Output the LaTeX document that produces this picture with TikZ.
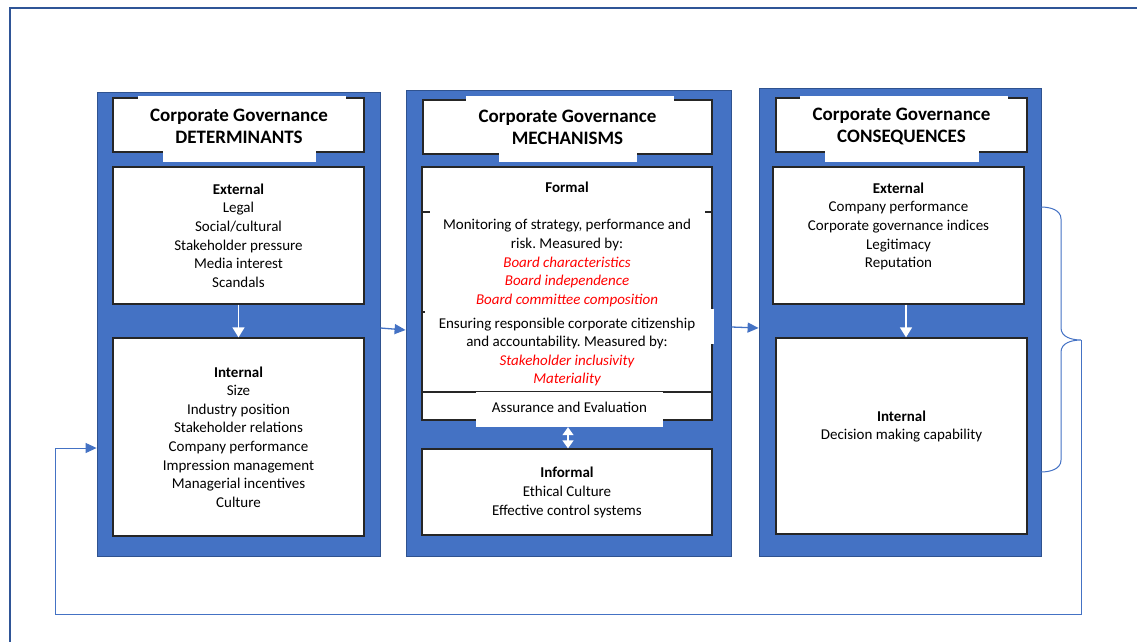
\documentclass[tikz,border=0pt]{standalone}
\usepackage{fontspec}
\setmainfont{Carlito}
\frenchspacing
\usetikzlibrary{arrows.meta}
\definecolor{panelblue}{HTML}{4472C4}
\definecolor{panelline}{HTML}{2F528F}
\definecolor{boxline}{HTML}{262626}
\definecolor{frameblue}{HTML}{2F5597}
\newcommand{\msr}[1]{\textcolor{red}{\itshape #1}}
\tikzset{
  panel/.style={fill=panelblue, draw=panelline, line width=0.8pt, inner sep=0pt},
  cell/.style={fill=white, draw=boxline, line width=1.3pt, inner sep=0pt},
  cover/.style={fill=white, draw=none, inner sep=0pt},
  txt/.style={align=center, inner sep=0pt, font=\fontsize{15}{18.6}\selectfont},
  head/.style={align=center, inner sep=0pt, font=\fontsize{19}{22}\selectfont\bfseries},
  link/.style={draw=panelblue, line width=1.3pt},
  wlink/.style={draw=white, line width=1.4pt},
  btip/.style={-{Triangle[length=11pt,width=10pt]}},
  wtip/.style={-{Triangle[length=10pt,width=12pt,fill=white]}}
}
\begin{document}
\begin{tikzpicture}[x=1pt, y=-1pt]
    \useasboundingbox (0,0) rectangle (1137,642);
    % frame round the page
    \draw[frameblue, line width=1.6pt] (10,642) -- (10,8) -- (1137,8);

    % the three panels
    \node[panel, minimum width=283pt, minimum height=464pt] (detpanel) at (238.5,324) {};
    \node[panel, minimum width=325pt, minimum height=466pt] (mechpanel) at (568.5,323) {};
    \node[panel, minimum width=282pt, minimum height=468pt] (conpanel) at (900,322) {};

    % headers
    \node[cell, minimum width=251pt, minimum height=54pt] (dethead) at (238.5,125) {};
    \node[cell, minimum width=289pt, minimum height=54pt] (mechhead) at (567.5,127) {};
    \node[cell, minimum width=251pt, minimum height=54pt] (conhead) at (901.5,125) {};
    \fill[white] (138,96) rectangle (346,140);
    \fill[white] (163,130) rectangle (316,162);
    \fill[white] (466,96) rectangle (674,140);
    \fill[white] (499,130) rectangle (637,162);
    \fill[white] (800,96) rectangle (1008,140);
    \fill[white] (825,130) rectangle (979,162);
    \node[head] (dettitle) at (239,126) {Corporate Governance\\DETERMINANTS};
    \node[head] (mechtitle) at (567.5,127.5) {Corporate Governance\\MECHANISMS};
    \node[head] (contitle) at (901.5,126) {Corporate Governance\\CONSEQUENCES};

    % determinants
    \node[cell, minimum width=251pt, minimum height=137pt] (detext) at (238.5,235.5) {};
    \node[cell, minimum width=251pt, minimum height=198pt] (detint) at (238.5,437) {};
    \node[txt] (detexttxt) at (238.5,235.5) {\textbf{External}\\Legal\\Social/cultural\\Stakeholder pressure\\Media interest\\Scandals};
    \node[txt] (detinttxt) at (238.5,437) {\textbf{Internal}\\Size\\Industry position\\Stakeholder relations\\Company performance\\Impression management\\Managerial incentives\\Culture};
    \draw[wlink, wtip] (detext.south) -- (detint.north);

    % mechanisms
    \node[cell, minimum width=290pt, minimum height=253pt] (formal) at (567,293.5) {};
    \draw[boxline, line width=1.3pt] (422,212) -- (430,212);
    \draw[boxline, line width=1.3pt] (705,212) -- (712,212);
    \draw[boxline, line width=1.3pt] (422,312) -- (426,312);
    \draw[boxline, line width=1.3pt] (422,392) -- (712,392);
    \fill[white] (425,309) rectangle (714,344);
    \node[cover, minimum width=187pt, minimum height=35pt] (assure) at (569.5,409.5) {};
    \node[txt] (formaltxt) at (567,187) {\textbf{Formal}};
    \node[txt] (monitortxt) at (567,263) {Monitoring of strategy, performance and\\risk. Measured by:\\\msr{Board characteristics}\\\msr{Board independence}\\\msr{Board committee composition}};
    \node[txt] (ensuretxt) at (567,352) {Ensuring responsible corporate citizenship\\and accountability. Measured by:\\\msr{Stakeholder inclusivity}\\\msr{Materiality}};
    \node[txt] (assuretxt) at (569.5,407) {Assurance and Evaluation};
    \node[cell, minimum width=290pt, minimum height=86pt] (informal) at (567,492) {};
    \node[txt] (informaltxt) at (567,492.5) {\textbf{Informal}\\Ethical Culture\\Effective control systems};
    \draw[wlink, {Triangle[length=8pt,width=11pt,fill=white]}-{Triangle[length=8pt,width=11pt,fill=white]}] ([xshift=-1.5pt]assure.south) -- ([xshift=1pt]informal.north);

    % consequences
    \node[cell, minimum width=251pt, minimum height=137pt] (conext) at (898.5,235.5) {};
    \node[cell, minimum width=251pt, minimum height=196pt] (conint) at (901.5,436) {};
    \node[txt] (conexttxt) at (898.5,226.5) {\textbf{External}\\Company performance\\Corporate governance indices\\Legitimacy\\Reputation};
    \node[txt] (coninttxt) at (901.5,426.5) {\textbf{Internal}\\Decision making capability};
    \draw[wlink, wtip] ([xshift=7.5pt]conext.south) -- ([xshift=4.5pt]conint.north);

    % links between panels
    \draw[link, btip] ([yshift=-4pt]detpanel.east) -- ([yshift=-7pt]mechpanel.west);
    \draw[link, btip] ([yshift=-4pt]mechpanel.east) -- ([yshift=-6pt]conpanel.west);

    % brace and feedback loop
    \coordinate (bracetip) at (1081,340);
    \coordinate (loopcorner) at (55,614);
    \draw[link, line width=1pt] (1041,207) to[out=0,in=90] (1061,219) -- (1061,328)
        to[out=270,in=180] (bracetip) to[out=180,in=90] (1061,352) -- (1061,460)
        to[out=270,in=0] (1041,472);
    \draw[link, line width=1pt, btip] (bracetip) |- (loopcorner) |- ([yshift=-124pt]detpanel.west);

\end{tikzpicture}
\end{document}
